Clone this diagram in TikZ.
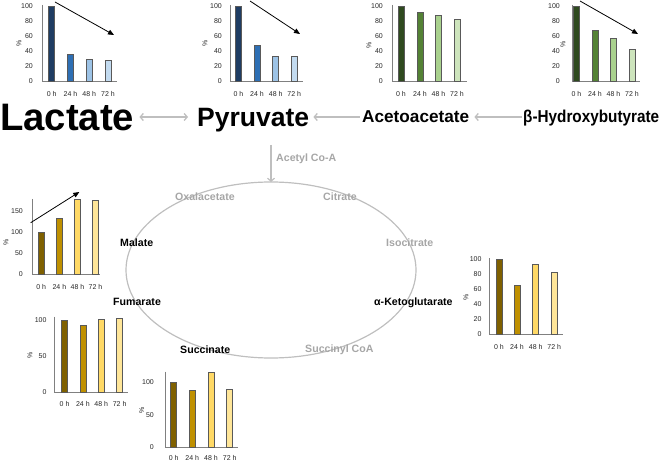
\documentclass[tikz,border=0pt]{standalone}
\usepackage{fontspec}
\setmainfont{Liberation Sans}
\usetikzlibrary{arrows.meta,calc}
\definecolor{blueA}{HTML}{1F3D63}
\definecolor{blueB}{HTML}{2E6FB4}
\definecolor{blueC}{HTML}{9DC3E6}
\definecolor{blueD}{HTML}{C3DBF0}
\definecolor{greenA}{HTML}{2F4A1F}
\definecolor{greenB}{HTML}{548235}
\definecolor{greenC}{HTML}{A9D18E}
\definecolor{greenD}{HTML}{CDE4BC}
\definecolor{brownA}{HTML}{7F6000}
\definecolor{brownB}{HTML}{BF9000}
\definecolor{brownC}{HTML}{FFD966}
\definecolor{brownD}{HTML}{FFE699}
\definecolor{cyclegray}{HTML}{BFBFBF}
\definecolor{labgray}{HTML}{A6A6A6}
\definecolor{axisgray}{HTML}{808080}
\tikzset{
  axisln/.style={draw=axisgray, line width=0.9pt},
  barst/.style={draw=black!65, line width=0.6pt},
  ticklab/.style={font=\fontsize{7}{8}\selectfont, inner sep=0pt, text=black!85},
  pctlab/.style={font=\fontsize{7}{8}\selectfont, inner sep=0pt, rotate=90, text=black!85},
  trendarrow/.style={draw=black, line width=0.8pt, -{Triangle[length=6pt,width=5pt]}},
  grayarrow/.style={draw=cyclegray, line width=1.3pt},
  cycleline/.style={draw=cyclegray, line width=1.2pt},
  metab/.style={font=\bfseries\fontsize{10.6}{12}\selectfont, inner sep=0pt, anchor=base west},
  graymetab/.style={metab, text=labgray},
  bigname/.style={font=\bfseries, inner sep=0pt, anchor=base west}
}
% #1 axis x, #2 base y, #3 top y, #4 baseline end x, #5 bars bx/value/colour/label, #6 ticks, #7 tick label right x
\newcommand{\mkchart}[7]{%
  \draw[axisln] (#1,#3) -- (#1,#2) -- (#4,#2);
  \foreach \bx/\bv/\bc/\lab [count=\i] in {#5} {
    \draw[barst, fill=\bc] (\bx,#2) rectangle ({\bx+\chbw},{#2-\bv*\chscale});
    \node[ticklab] (xl-\chid-\i) at ({\bx+\chbw/2},\chxly) {\lab};
  }
  \foreach \t [count=\j] in {#6}
    \node[ticklab, anchor=east] (yl-\chid-\j) at (#7,{#2-\t*\chscale}) {\t};
}
\begin{document}
\begin{tikzpicture}[x=1pt,y=-1pt]
\useasboundingbox (0,0) rectangle (660,462);

% ---------- top charts ----------
\def\chscale{0.75}\def\chxly{94}\def\chbw{6}
\def\chid{la}
\mkchart{42}{81}{5}{117}{48.7/100/blueA/0 h,67.5/36/blueB/24 h,86.3/29/blueC/48 h,105/27/blueD/72 h}{0,20,40,60,80,100}{33}
\node[pctlab] (pla) at (19,43) {\%};
\coordinate (ala1) at (55,2); \coordinate (ala2) at (114,35);
\draw[trendarrow] (ala1) -- (ala2);

\def\chid{py}
\mkchart{230}{81}{5}{303}{235.5/100/blueA/0 h,254/47/blueB/24 h,272.7/33/blueC/48 h,291.3/33/blueD/72 h}{0,20,40,60,80,100}{222}
\node[pctlab] (ppy) at (205,43) {\%};
\coordinate (apy1) at (250,1); \coordinate (apy2) at (300,34);
\draw[trendarrow] (apy1) -- (apy2);

\def\chid{ac}
\mkchart{392}{81}{5}{467}{398/100/greenA/0 h,417/91/greenB/24 h,435.5/87/greenC/48 h,454/82/greenD/72 h}{0,20,40,60,80,100}{383}
\node[pctlab] (pac) at (369,45) {\%};

\def\chid{hb}
\mkchart{572}{81}{5}{640}{573.5/100/greenA/0 h,592/67/greenB/24 h,610.5/57/greenC/48 h,629/42/greenD/72 h}{0,20,40,60,80,100}{560}
\node[pctlab] (phb) at (563,44) {\%};
\coordinate (ahb1) at (580,1); \coordinate (ahb2) at (638,34);
\draw[trendarrow] (ahb1) -- (ahb2);

% ---------- main row ----------
\node[bigname] (lactate) at (0,131) {\resizebox{134pt}{!}{Lactate}};
\node[bigname] (pyruvate) at (197,127) {\resizebox{112pt}{!}{Pyruvate}};
\node[bigname] (acetoacetate) at (362,123) {\resizebox{107pt}{!}{Acetoacetate}};
\node[bigname] (bhb) at (523,123) {\resizebox{136pt}{\height}{\fontsize{17.2}{20}\selectfont β-Hydroxybutyrate}};
\coordinate (row) at (0,117);
\draw[grayarrow, {Straight Barb[length=3pt,width=7pt]}-{Straight Barb[length=3pt,width=7pt]}]
  ($(lactate.east|-row)+(5,0)$) -- ($(pyruvate.west|-row)+(-9,0)$);
\draw[grayarrow, {Straight Barb[length=3pt,width=7pt]}-]
  ($(pyruvate.east|-row)+(4,0)$) -- ($(acetoacetate.west|-row)+(-2,0)$);
\draw[grayarrow, {Straight Barb[length=3pt,width=7pt]}-]
  ($(acetoacetate.east|-row)+(5,0)$) -- ($(bhb.west|-row)+(-1,0)$);

% ---------- cycle ----------
\coordinate (acstart) at (271,145);
\coordinate (actop) at (271,182);
\draw[grayarrow, line width=1.2pt, -{Straight Barb[length=3pt,width=7pt]}] (acstart) -- (actop);
\node[graymetab] (acetyl) at (276,162) {Acetyl Co-A};
\draw[cycleline] (271,270) ellipse [x radius=145, y radius=88];

\node[graymetab] (oxal) at (175,200.5) {Oxalacetate};
\node[graymetab] (citrate) at (323,200.5) {Citrate};
\node[graymetab] (isocit) at (386,246.5) {Isocitrate};
\node[graymetab] (succoa) at (305,352) {Succinyl CoA};
\node[metab] (malate) at (120,246.5) {Malate};
\node[metab] (fumarate) at (113,305.5) {Fumarate};
\node[metab] (akg) at (374,305.5) {α-Ketoglutarate};
\node[metab] (succinate) at (180,353) {Succinate};

% ---------- bottom charts ----------
\def\chid{ma}\def\chscale{0.42}\def\chxly{287}\def\chbw{5.7}
\mkchart{32}{274}{199}{100}{38.3/100/brownA/0 h,56.5/133/brownB/24 h,74.7/178/brownC/48 h,92.7/176/brownD/72 h}{0,50,100,150}{23}
\node[pctlab] (pma) at (6,242) {\%};
\coordinate (ama1) at (30.7,222.7); \coordinate (ama2) at (79.3,192);
\draw[trendarrow] (ama1) -- (ama2);

\def\chid{fu}\def\chscale{0.723}\def\chxly{404}\def\chbw{5.8}
\mkchart{54.3}{392.3}{316.7}{128}{61.7/100/brownA/0 h,80/93/brownB/24 h,98.3/101/brownC/48 h,116.7/103/brownD/72 h}{0,50,100}{46.7}
\node[pctlab] (pfu) at (30,355) {\%};

\def\chid{su}\def\chscale{0.647}\def\chxly{458}\def\chbw{6}
\mkchart{165}{447}{371.7}{238.3}{170.7/100/brownA/0 h,189.3/87/brownB/24 h,208/116/brownC/48 h,226.7/89/brownD/72 h}{0,50,100}{154}
\node[pctlab] (psu) at (141.7,410) {\%};

\def\chid{kg}\def\chscale{0.75}\def\chxly{347}\def\chbw{6}
\mkchart{489.3}{334}{258.3}{563}{496/100/brownA/0 h,514/65/brownB/24 h,532.7/93/brownC/48 h,551.3/82/brownD/72 h}{0,20,40,60,80,100}{481.7}
\node[pctlab] (pkg) at (466,297) {\%};
\end{tikzpicture}
\end{document}
